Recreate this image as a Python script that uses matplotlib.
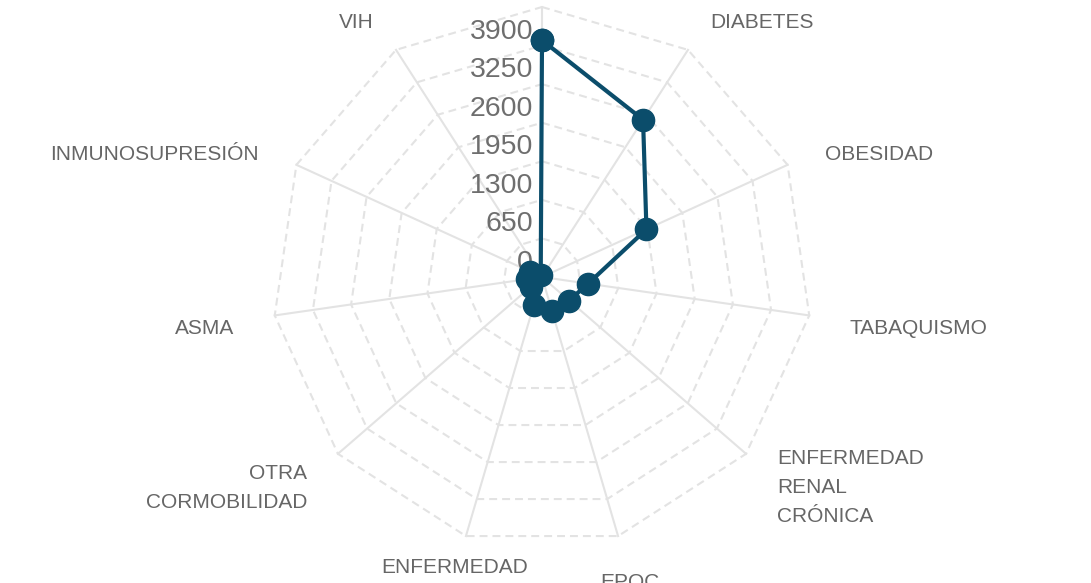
#!/bin/python

import sys
import numpy as np
import matplotlib as mpl
import matplotlib.pyplot as plt

# Comorbidity counts (radar, first axis on top, clockwise)
categories = ['HIPERTENSIÓN', 'DIABETES', 'OBESIDAD', 'TABAQUISMO',
              'ENFERMEDAD RENAL CRÓNICA', 'EPOC', 'ENFERMEDAD CARDÍACA',
              'OTRA CORMOBILIDAD', 'ASMA', 'INMUNOSUPRESIÓN', 'VIH']
values = [3990, 3150, 1935, 785, 605, 600, 490, 250, 260, 220, 40]
ticks = [0, 650, 1300, 1950, 2600, 3250, 3900]
r_max = 4550


def main():

    mpl.rcParams['font.family'] = ['Liberation Sans', 'DejaVu Sans']

    W, H = 1091, 583
    fig = plt.figure(figsize=(W / 100, H / 100), dpi=100)
    ax = fig.add_axes([0, 0, 1, 1])
    ax.set_axis_off()

    # centre and outer radius in pixels, s = value units per pixel
    cx, cy, R = 542, 277, 270
    s = r_max / R
    ax.set_xlim(-cx * s, (W - cx) * s)
    ax.set_ylim(-(H - cy) * s, cy * s)

    n = len(categories)
    theta = 2 * np.pi * np.arange(n) / n
    sn, cs = np.sin(theta), np.cos(theta)
    grid = '#e3e3e3'

    # dashed polygon rings
    for r in np.arange(650, r_max + 1, 650):
        ax.plot(np.append(r * sn, r * sn[0]), np.append(r * cs, r * cs[0]),
                color=grid, lw=1.5, dashes=(3.8, 2.4), zorder=1)

    # spokes
    for a, b in zip(sn, cs):
        ax.plot([0, r_max * a], [0, r_max * b], color=grid, lw=1.5, zorder=1)

    # radial tick labels
    for t in ticks:
        ax.text(-9 * s, t + 14 * s, str(t), ha='right', va='center',
                fontsize=20.5, color='#6e6e6e', zorder=2)

    # category names
    d = 311 * s
    for name, a, b in zip(categories, sn, cs):
        if abs(a) < 0.3:
            ha = 'center'
        elif a > 0:
            ha = 'left'
        else:
            ha = 'right'
        ax.text(d * a, d * b - 7 * s, name.replace(' ', '\n'), ha=ha,
                va='center', multialignment=ha, fontsize=15,
                linespacing=1.68, color='#666666')

    # data polygon
    v = np.array(values, dtype=float)
    px = np.append(v * sn, v[0] * sn[0])
    py = np.append(v * cs, v[0] * cs[0])
    ax.plot(px, py, color='#0b4d6b', lw=3, marker='o', markersize=16,
            zorder=3)

    fig.savefig('out.png', dpi=100)

    return 0


if __name__ == '__main__':
    sys.exit(main())
